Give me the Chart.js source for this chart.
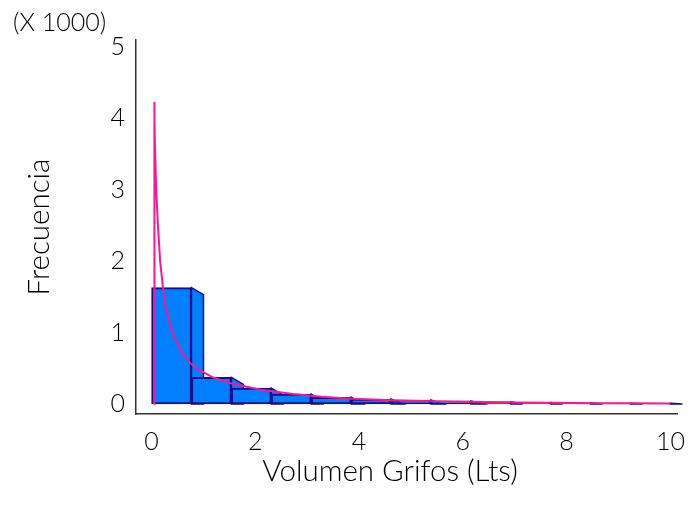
<!DOCTYPE html>
<html>
<head>
<meta charset="utf-8">
<script src="https://cdn.jsdelivr.net/npm/chart.js@4.4.1/dist/chart.umd.min.js"></script>
<style>
  html, body { margin: 0; padding: 0; background: #ffffff; }
  #wrap { width: 698px; height: 511px; }
</style>
</head>
<body>
<div id="wrap"><canvas id="chart" width="698" height="511"></canvas></div>
<script>
// Histogram of tap volumes (13 equal bins over 0–10 L) with fitted density curve
const binStart = 0;
const binEnd = 10;
const binCount = 13;
const frequencies = [1630, 372, 222, 138, 95, 70, 55, 42, 30, 22, 16, 12, 9];

// Fitted curve, volume (L) vs expected frequency
const curveX = [0.05, 0.05, 0.06, 0.07, 0.09, 0.12, 0.165, 0.22, 0.26, 0.33, 0.43, 0.58, 0.75, 0.91, 1.16, 1.53, 2.1, 2.73, 3.27, 3.87, 4.62, 5.44, 6.2, 7.0, 7.71, 8.5, 9.3, 10];
const curveY = [0, 4230, 3940, 3470, 3000, 2540, 2000, 1630, 1410, 1180, 950, 720, 570, 480, 380, 290, 200, 140, 100, 72, 52, 40, 30, 22, 16, 12, 9, 7];

const xTicks = [0, 2, 4, 6, 8, 10];
const yTicks = [0, 1000, 2000, 3000, 4000, 5000];

const xTitle = 'Volumen Grifos (Lts)';
const yTitle = 'Frecuencia';
const scaleNote = '(X 1000)';

const FONT = 'Lato, "Open Sans", sans-serif';
const TEXT = '#000';
const BAR_FILL = '#0080ff';
const BAR_EDGE = '#10108a';
const CURVE = '#ff1493';
const DEPTH_X = 12, DEPTH_Y = 7;

const binWidth = (binEnd - binStart) / binCount;
const barData = frequencies.map((f, i) => ({ x: binStart + (i + 0.5) * binWidth, y: f }));
const curveData = curveX.map((x, i) => ({ x: x, y: curveY[i] }));

// Slanted side faces behind the bar fronts
const sideFaces = {
  id: 'sideFaces',
  beforeDatasetsDraw(chart) {
    const meta = chart.getDatasetMeta(1);
    const ctx = chart.ctx;
    ctx.save();
    ctx.fillStyle = BAR_FILL;
    ctx.strokeStyle = BAR_EDGE;
    ctx.lineWidth = 1.5;
    meta.data.forEach(bar => {
      const p = bar.getProps(['x', 'y', 'base', 'width'], true);
      const r = p.x + p.width / 2;
      const yb = Math.min(p.y + DEPTH_Y, p.base);
      ctx.beginPath();
      ctx.moveTo(r, p.y);
      ctx.lineTo(r + DEPTH_X, yb);
      ctx.lineTo(r + DEPTH_X, p.base);
      ctx.lineTo(r, p.base);
      ctx.closePath();
      ctx.fill();
      ctx.stroke();
    });
    ctx.restore();
  }
};

// Axis titles and the multiplier note
const titles = {
  id: 'titles',
  afterDraw(chart) {
    const ctx = chart.ctx;
    const area = chart.chartArea;
    ctx.save();
    ctx.fillStyle = TEXT;
    ctx.textBaseline = 'alphabetic';

    ctx.font = '300 25px ' + FONT;
    ctx.textAlign = 'left';
    ctx.fillText(scaleNote, 13, 31);

    ctx.font = '300 29.5px ' + FONT;
    ctx.textAlign = 'center';
    ctx.fillText(xTitle, 390, 481);

    ctx.translate(49, (area.top + area.bottom) / 2);
    ctx.rotate(-Math.PI / 2);
    ctx.fillText(yTitle, 0, 0);
    ctx.restore();
  }
};

new Chart(document.getElementById('chart'), {
  type: 'bar',
  data: {
    datasets: [
      {
        type: 'line',
        data: curveData,
        borderColor: CURVE,
        borderWidth: 2,
        pointRadius: 0,
        tension: 0,
        fill: false,
        order: 0
      },
      {
        type: 'bar',
        data: barData,
        backgroundColor: BAR_FILL,
        borderColor: BAR_EDGE,
        borderWidth: 2,
        borderSkipped: false,
        barPercentage: 1,
        categoryPercentage: 1,
        order: 1
      }
    ]
  },
  options: {
    responsive: false,
    animation: false,
    layout: { padding: { top: 40, right: 10, left: 0, bottom: 0 } },
    plugins: { legend: { display: false }, tooltip: { enabled: false } },
    scales: {
      x: {
        type: 'linear',
        offset: false,
        min: -0.3,
        max: 10.13,
        afterBuildTicks: s => { s.ticks = xTicks.map(v => ({ value: v })); },
        afterFit: s => { s.height = 97; },
        grid: { display: false, drawTicks: false, offset: false },
        border: { display: true, color: '#333', width: 1.5 },
        ticks: { color: TEXT, font: { family: FONT, size: 25, weight: '300' }, padding: 13, maxRotation: 0 }
      },
      y: {
        type: 'linear',
        min: -140,
        max: 5098,
        afterBuildTicks: s => { s.ticks = yTicks.map(v => ({ value: v })); },
        afterFit: s => { s.width = 136; },
        grid: { display: false, drawTicks: false },
        border: { display: true, color: '#333', width: 1.5 },
        ticks: { color: TEXT, font: { family: FONT, size: 25, weight: '300' }, padding: 11, callback: v => String(v / 1000) }
      }
    }
  },
  plugins: [sideFaces, titles]
});
</script>
</body>
</html>
